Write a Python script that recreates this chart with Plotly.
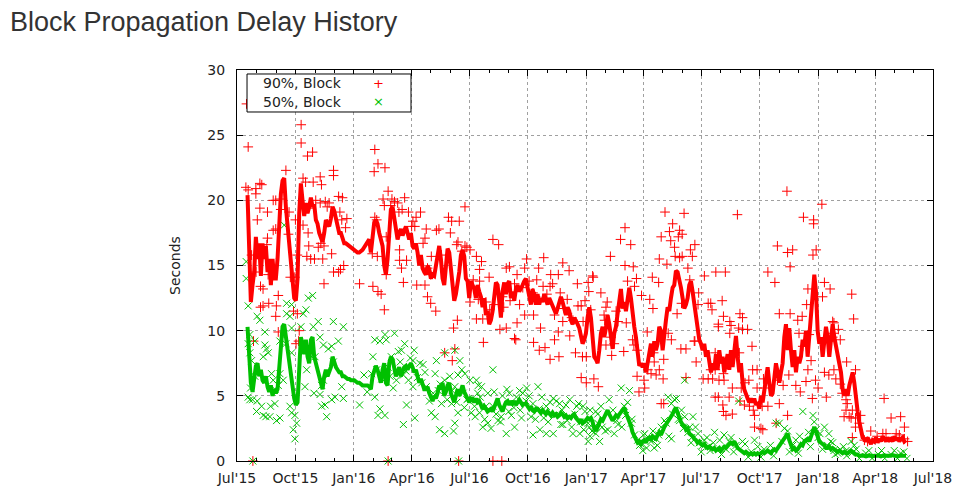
import pandas as pd
import plotly.graph_objects as go

# smoothed lines: one value every 63 hours from 2015-07-17 14:00
line_start = '2015-07-17 14:00'
red_line = [
    20.4, 16.0, 12.2, 13.5, 14.5, 17.2, 15.5, 16.7, 14.2, 16.7, 15.5, 16.5, 14.5, 15.5, 13.5, 15.5,
    14.0, 14.0, 15.5, 18.0, 20.5, 21.5, 21.7, 19.5, 18.0, 16.5, 15.0, 13.5, 12.5, 12.3, 14.0, 19.0,
    21.3, 20.0, 18.8, 19.8, 19.0, 19.5, 20.2, 19.5, 19.7, 18.5, 18.2, 17.5, 17.0, 16.8, 17.5, 18.5,
    18.2, 18.0, 18.6, 19.5, 19.2, 18.5, 18.0, 17.5, 17.5, 17.0, 16.7, 16.7, 16.6, 16.5, 16.4, 16.3,
    16.2, 16.1, 16.0, 16.0, 16.1, 16.2, 16.4, 16.6, 16.8, 17.0, 16.0, 17.5, 18.3, 18.5, 18.2, 17.5,
    17.0, 16.5, 15.0, 14.3, 15.5, 18.0, 19.3, 19.5, 18.5, 17.5, 17.0, 17.5, 17.8, 17.3, 17.8, 18.0,
    17.5, 17.0, 17.5, 16.5, 16.3, 16.7, 16.0, 15.0, 15.8, 14.8, 14.5, 14.3, 15.0, 14.7, 14.0, 14.3,
    14.2, 15.0, 16.0, 16.5, 15.5, 14.0, 13.5, 15.0, 16.3, 16.0, 14.5, 13.0, 12.3, 12.8, 13.5, 14.5,
    15.8, 16.2, 15.7, 14.0, 13.8, 12.5, 13.8,
    13.5, 13.2, 12.5, 13.5, 13.0, 12.6, 11.8, 12.5, 11.2, 11.5, 10.5, 10.8, 11.5, 12.5, 13.7, 13.5,
    12.5, 11.0, 13.0, 13.7, 12.8, 13.6, 13.8, 12.5, 13.0, 12.3, 13.2, 13.5, 13.0, 13.2, 13.5, 13.8,
    14.0, 13.3, 12.8, 12.0, 13.2, 12.5, 12.0, 12.8, 12.0, 12.5, 12.2, 12.8, 12.3, 12.0, 12.5, 12.2,
    11.8, 11.5, 11.3, 11.7, 12.2, 12.6, 12.2, 11.5, 11.2, 11.8, 11.5, 10.8, 10.5, 11.0, 10.8, 10.5,
    10.2, 9.7, 9.0, 9.3, 9.8, 11.0, 11.8,
    11.0, 9.5, 8.0, 7.8, 7.5, 8.5, 9.8, 10.3, 9.5, 10.2, 11.2, 10.5, 9.2, 8.6, 9.8, 10.3,
    11.3, 12.5, 13.2, 11.7, 12.2, 11.5, 12.5, 13.3, 12.5, 11.0, 10.3, 9.5, 8.0, 7.3, 7.5, 7.2,
    7.5, 6.8, 7.5, 8.5, 9.0, 8.0, 9.2, 8.5, 9.0, 10.3, 10.0, 8.5, 10.0, 10.8, 11.8, 11.5,
    12.5, 13.3, 13.5, 14.6, 14.5, 14.0, 13.3, 12.5, 11.7, 12.0, 12.5, 13.5, 13.8, 13.0, 12.0, 11.0,
    10.0, 9.3, 9.0, 8.5, 9.0, 8.0, 8.5,
    7.5, 6.8, 7.5, 7.0, 8.2, 7.0, 8.5, 7.5, 8.0, 6.8, 7.5, 8.2, 7.0, 8.5, 7.2, 8.8,
    9.6, 8.0, 6.8, 7.5, 6.0, 5.5, 5.0, 4.8, 4.5, 4.8, 4.5, 4.8, 4.3, 4.5, 4.0, 5.0,
    4.5, 5.5, 6.5, 7.2, 6.0, 5.0, 5.2, 6.2, 7.5, 6.8, 6.0, 6.8, 7.5, 9.5, 10.5, 8.5,
    10.2, 8.5, 7.2, 8.5, 6.8, 8.0, 7.5, 8.0, 9.3, 8.8, 10.0, 8.0, 9.5, 10.5, 12.5, 14.3,
    13.0, 10.0, 9.0, 9.5, 8.0, 9.0, 10.3,
    9.5, 8.0, 9.3, 10.5, 9.5, 8.8, 8.0, 7.5, 6.8, 5.5, 5.0, 5.5, 5.0, 5.8, 6.5, 6.8,
    6.0, 4.5, 3.8, 3.0, 2.5, 1.8, 1.7, 1.5, 1.8, 1.6, 1.3, 1.6, 1.5, 1.8, 1.4, 1.7,
    1.5, 1.9, 1.7, 1.5, 1.8, 1.6, 1.7, 1.5, 1.9, 1.6, 1.8, 1.5, 1.7, 1.8, 1.5, 1.6,
]
green_line = [
    10.3, 8.5, 6.0, 5.3, 6.5, 7.3, 7.5, 6.5, 7.0, 6.2, 6.0, 6.5, 5.7, 5.3, 5.8, 5.0,
    5.5, 5.2, 5.5, 7.0, 9.0, 10.3, 10.5, 9.5, 8.5, 7.5, 6.5, 5.8, 4.8, 4.3, 4.5, 7.0,
    9.5, 9.0, 8.2, 9.3, 8.0, 7.5, 9.3, 9.5, 8.0, 7.5, 7.0, 6.5, 6.0, 5.5, 6.5, 7.0,
    6.5, 6.8, 7.2, 8.0, 7.5, 7.2, 7.0, 6.8, 6.8, 6.5, 6.5, 6.4, 6.3, 6.3, 6.2, 6.2,
    6.2, 6.1, 6.0, 6.0, 5.9, 5.8, 5.8, 5.8, 5.8, 5.7, 5.5, 6.5, 7.0, 7.3, 7.0, 6.5,
    6.0, 7.0, 7.5, 6.0, 5.8, 7.5, 8.0, 7.8, 7.0, 6.5, 6.8, 7.2, 6.5, 6.8, 7.2, 7.3,
    7.0, 7.3, 7.5, 7.2, 6.8, 7.0, 6.5, 6.0, 6.3, 5.8, 5.5, 5.5, 5.7, 5.2, 4.8, 4.6,
    5.0, 4.8, 5.2, 5.8, 5.5, 6.0, 5.0, 5.3, 5.8, 6.0, 5.2, 4.8, 4.5, 5.0, 5.5, 5.0,
    5.5, 5.8, 5.3, 5.0, 4.8, 4.5, 4.8,
    4.8, 4.5, 4.8, 4.5, 4.6, 4.3, 4.0, 4.2, 4.0, 3.8, 3.9, 4.0, 3.8, 4.2, 4.6, 4.8,
    4.3, 4.0, 3.8, 4.2, 4.5, 4.6, 4.3, 4.6, 4.4, 4.6, 4.3, 4.5, 4.7, 4.5, 4.3, 4.4,
    4.4, 4.2, 4.0, 4.2, 3.9, 3.8, 4.0, 4.0, 3.8, 3.7, 3.9, 3.7, 3.6, 3.8, 3.6, 3.5,
    3.7, 3.5, 3.6, 3.4, 3.5, 3.7, 3.6, 3.4, 3.5, 3.3, 3.4, 3.3, 3.5, 3.6, 3.3, 3.1,
    3.0, 3.2, 2.9, 3.0, 3.1, 3.3, 3.2,
    3.3, 3.0, 2.5, 2.3, 2.6, 3.0, 3.2, 3.1, 3.4, 3.6, 3.9, 3.6, 3.3, 3.1, 3.3, 3.5,
    3.4, 3.6, 3.8, 4.0, 4.1, 3.7, 3.4, 3.0, 2.7, 2.2, 1.9, 1.6, 1.4, 1.5, 1.3, 1.5,
    1.6, 1.4, 1.7, 1.8, 1.6, 1.9, 1.8, 1.7, 2.0, 2.2, 2.0, 2.4, 2.6, 2.8, 3.0, 3.2,
    3.3, 3.6, 3.9, 4.1, 3.7, 3.3, 3.0, 2.8, 2.7, 2.4, 2.5, 2.1, 2.0, 1.9, 1.7, 1.6,
    1.4, 1.5, 1.3, 1.2, 1.3, 1.1, 1.0,
    1.1, 1.0, 0.9, 1.0, 0.8, 0.9, 1.0, 0.8, 1.0, 1.1, 1.0, 1.2, 1.3, 1.4, 1.3, 1.5,
    1.2, 1.0, 0.9, 0.8, 0.7, 0.6, 0.7, 0.6, 0.5, 0.6, 0.5, 0.6, 0.5, 0.6, 0.5, 0.6,
    0.7, 0.6, 0.7, 0.8, 0.7, 0.6, 0.8, 0.9, 0.8, 1.0, 1.1, 1.3, 1.5, 1.8, 2.0, 2.1,
    1.6, 1.2, 0.9, 1.0, 0.8, 0.9, 1.1, 1.3, 1.2, 1.5, 1.6, 1.7, 1.5, 1.9, 2.3, 2.6,
    2.3, 1.8, 1.5, 1.4, 1.3, 1.2, 1.0,
    1.0, 1.1, 0.9, 1.0, 0.9, 0.8, 0.7, 0.8, 0.7, 0.6, 0.7, 0.6, 0.6, 0.7, 0.8, 0.7,
    0.6, 0.5, 0.5, 0.4, 0.4, 0.45, 0.4, 0.35, 0.4, 0.45, 0.4, 0.35, 0.4, 0.4, 0.45, 0.4,
    0.35, 0.4, 0.45, 0.4, 0.4, 0.35, 0.4, 0.45, 0.4, 0.4, 0.35, 0.4, 0.45, 0.4, 0.4, 0.4,
]

# daily samples, day number counted from 2015-07-01
red_day = [
    15, 17.6, 14, 17.6, 29.7, 29.7, 36, 39, 36, 32, 48, 57, 61, 67, 69, 77, 82, 92, 57, 61,
    48, 47, 81, 95, 91, 65, 61, 65, 84, 37, 41, 37, 41, 50, 62, 23, 30, 49, 26, 89,
    95, 98, 93, 97, 101, 101, 111, 119, 104, 108, 120, 131, 133, 152, 152, 139, 131, 124, 112, 142,
    145, 160, 166, 162, 165, 173, 171, 112, 104, 137, 132, 113, 116, 110, 122, 135, 149, 128, 160, 163,
    168, 152, 137, 25, 238, 349, 403, 417,
    217, 222, 216, 233, 238, 230, 232, 244, 248, 253, 264, 260, 270, 255, 242, 289, 282, 277, 298, 314,
    318, 333, 338, 350, 359, 336, 346, 348, 359, 367, 217, 220, 235, 213, 221, 256, 267, 296, 293, 280,
    275, 306, 300, 305, 322, 354, 362, 259, 256, 262, 193, 214, 222, 227, 235, 283, 296, 300, 305, 313,
    232, 347, 341, 343, 327, 339, 367,
    403, 412, 377, 382, 424, 441, 456, 475, 483, 494, 513, 523, 536, 553, 509, 482, 377, 388, 414, 437,
    441, 467, 467, 476, 478, 493, 507, 533, 544, 542, 550, 524, 385, 397, 429, 453, 493, 506, 560, 554,
    466, 437, 382, 387, 424, 439, 453, 485, 500, 506, 513, 550, 537, 542, 529,
    372, 380, 392, 398, 405, 418, 420, 430, 445, 450, 460, 470, 472, 488, 497, 500, 515, 520, 527, 545,
    548, 557,
    674, 704, 611, 604, 620, 588, 668, 681, 686, 689, 714, 721, 717, 665, 677, 611, 624, 629, 654, 664,
    626, 561, 710, 713, 736, 573, 583, 597, 600, 613, 637, 650, 655, 646, 679, 684, 700, 693, 727, 726,
    742, 720, 699, 589, 581, 623, 590, 609, 630, 656, 672, 665, 647, 630, 641, 633, 671, 668, 562, 569,
    723, 734, 707, 697, 695, 701, 683, 690, 697, 701, 615, 581, 578, 579, 721, 707, 594, 625, 657, 660,
    652, 642, 742, 672,
    866, 921, 788, 892, 908, 851, 867, 907, 871, 754, 769, 836, 847, 899, 764, 897, 854, 796, 766, 758,
    804, 776, 904, 769, 899, 925, 766, 812, 780, 799, 849, 867, 815,
    908, 875, 912, 925, 922, 746, 748, 871, 890, 792, 758, 776, 778, 883, 790, 796, 885, 901, 891, 811,
    753, 791, 746, 753, 749, 759, 767, 819, 829, 830, 851, 860, 869, 880, 887, 896, 911, 915, 794, 800,
    806, 819, 928, 906, 753, 758, 765, 775, 807, 815, 813, 836, 827, 854, 766, 770, 780, 825, 828, 792,
    934, 968, 971, 960, 974, 956, 969, 1019, 1030, 1045, 1051,
    938, 940, 947, 939, 950, 938, 932, 940, 943, 950, 953, 959, 961, 969, 964, 959, 967, 974, 982, 980,
    974, 998, 1008, 1017, 1022, 1038, 1043, 1051, 1056, 988, 993,
]
red_val = [
    27.4, 24.1, 21.0, 20.8, 20.9, 20.5, 21.3, 21.2, 19.4, 18.5, 19.1, 20.0, 20.0, 20.1, 19.3, 22.3, 19.1, 18.5, 17.7, 17.8,
    17.1, 16.6, 17.4, 15.8, 14.1, 12.7, 11.1, 9.9, 14.1, 13.4, 13.2, 11.8, 11.9, 12.1, 11.9, 15.8, 14.5, 14.3, 9.2, 11.5,
    11.3, 10.0, 9.0, 9.2, 25.8, 24.4, 23.4, 23.7, 21.7, 21.4, 21.4, 21.8, 21.2, 22.3, 21.9, 19.9, 19.8, 20.0, 19.4, 19.5,
    19.8, 20.3, 20.2, 19.1, 18.5, 18.6, 17.9, 17.5, 18.1, 16.5, 16.7, 16.5, 15.5, 15.7, 15.5, 15.5, 15.9, 16.4, 14.5, 14.7,
    15.0, 14.5, 13.6, 0, 0, 0, 0, 0,
    23.9, 22.8, 22.2, 22.5, 20.7, 20.1, 19.6, 20.1, 19.9, 19.8, 20.2, 19.3, 19.1, 19.1, 19.6, 19.1, 18.7, 18.4, 17.8, 17.7,
    17.8, 18.7, 18.4, 18.4, 19.5, 17.5, 16.6, 16.8, 16.5, 16.2, 18.7, 18.5, 17.2, 15.9, 15.7, 16.2, 15.4, 17.1, 16.7, 18.0,
    18.0, 15.7, 14.8, 14.3, 15.8, 16.1, 16.4, 14.8, 15.4, 13.7, 13.6, 13.4, 13.0, 12.8, 14.3, 13.5, 13.5, 12.6, 12.1, 11.5,
    11.6, 10.8, 10.2, 8.6, 8.3, 7.7, 12.2,
    17.0, 16.6, 15.7, 14.7, 14.8, 14.3, 15.5, 14.8, 15.6, 14.3, 15.2, 14.6, 13.6, 13.7, 12.9, 13.4, 10.9, 9.1, 10.1, 9.4,
    10.6, 11.2, 9.1, 8.5, 10.2, 7.8, 8.0, 8.3, 8.0, 6.4, 6.0, 9.6, 15.3, 14.1, 14.9, 14.8, 13.4, 14.3, 14.2, 13.0,
    12.9, 13.6, 13.8, 10.9, 10.2, 9.3, 11.2, 8.7, 9.3, 9.9, 10.7, 8.0, 11.9, 11.9, 10.8,
    13.9, 12.4, 12.2, 11.6, 12.0, 12.6, 11.8, 12.3, 12.0, 13.3, 13.8, 12.6, 13.9, 12.8, 13.6, 11.2, 11.7, 12.4, 11.0, 10.7,
    12.3, 11.6,
    19.1, 19.0, 17.9, 17.0, 16.6, 15.7, 17.2, 17.6, 18.2, 16.4, 16.2, 16.6, 15.7, 15.5, 15.1, 15.0, 14.9, 14.0, 14.1, 13.7,
    13.4, 14.1, 14.8, 13.9, 14.2, 12.9, 12.2, 11.5, 10.7, 10.6, 12.7, 12.4, 11.7, 9.9, 9.8, 9.3, 12.1, 11.3, 12.9, 12.0,
    12.1, 9.2, 8.6, 9.5, 8.9, 9.3, 8.1, 8.4, 8.5, 8.3, 7.8, 7.0, 7.0, 6.5, 6.2, 5.3, 6.3, 4.4, 6.3, 5.7,
    7.6, 6.3, 6.4, 17.7, 17.2, 17.4, 16.9, 15.7, 15.6, 15.7, 13.8, 11.8, 11.2, 10.8, 9.2, 8.6, 9.0, 8.9, 7.6, 6.6,
    6.7, 5.6, 6.3, 4.4,
    20.7, 19.7, 18.9, 18.7, 18.5, 16.5, 16.0, 15.8, 14.9, 14.5, 14.5, 14.5, 13.7, 13.2, 12.3, 12.0, 11.3, 11.0, 11.1, 10.5,
    10.1, 9.8, 7.7, 7.5, 7.0, 6.8, 6.7, 7.0, 5.6, 4.3, 2.9, 3.5, 2.6,
    18.2, 16.2, 16.2, 13.7, 12.6, 12.1, 11.6, 11.3, 11.1, 11.3, 10.3, 10.7, 10.4, 10.8, 10.2, 10.1, 9.8, 9.7, 8.8, 8.8,
    8.3, 8.3, 7.0, 7.0, 6.3, 6.2, 6.2, 7.0, 6.3, 5.6, 6.2, 5.8, 6.6, 5.8, 5.3, 6.1, 6.2, 5.6, 5.6, 6.0,
    6.2, 5.6, 4.9, 4.8, 4.9, 4.9, 4.3, 4.9, 4.2, 3.5, 3.9, 4.2, 4.2, 4.4, 3.8, 3.5, 3.6, 2.5, 2.4, 4.6,
    13.2, 12.8, 10.9, 7.6, 7.0, 3.4, 1.8, 4.8, 3.3, 3.4, 2.6,
    10.7, 10.6, 10.1, 9.8, 9.3, 9.5, 6.6, 7.0, 6.3, 5.9, 5.2, 4.7, 4.4, 3.9, 3.4, 3.9, 3.3, 3.3, 3.5, 2.9,
    2.6, 2.3, 1.9, 2.1, 2.1, 2.1, 2.0, 1.7, 1.5, 1.6, 1.5,
]
green_day = [
    74.4, 17.6, 31.8, 36, 43.9, 41.3, 20.2, 17.6, 20.2, 22.9, 28.1, 21.3, 43.9, 46.5, 28.1, 49.2, 57, 54.4, 59.7, 65,
    78.1, 86, 78.1, 83.4, 86, 77, 67.6, 67.6, 72.8, 86, 104.4, 108.6, 112.3, 119.1, 100.7, 120.2, 128, 151.7, 167.5, 159.6,
    143.9, 149.1, 130.7, 136, 151.7, 108.6, 117.5, 122.8, 136, 133.3, 164.9, 167.5, 154.3, 149.1, 138.6, 133.3, 141.2, 121.2, 130.7, 109.7,
    107, 91.2, 93.9, 88.6, 91.2, 86, 83.4, 62.3, 67.6, 51.8, 45.5, 41.3, 38.7, 31.8, 24.4, 20.2, 52.8, 59.7, 30.8, 17.6,
    14.5, 14.5, 25, 238, 349,
    217, 225, 235, 233, 248, 254, 264, 259, 279, 277, 288, 293, 314, 312, 327, 343, 351, 348, 354, 359,
    367, 214, 212, 220, 238, 241, 251, 262, 270, 277, 291, 298, 309, 317, 327, 335, 343, 356, 364, 217,
    225, 222, 233, 262, 267, 280, 306, 312, 319, 327, 341, 343, 348, 193, 322, 338, 362, 369,
    200, 205, 228, 243, 246, 257, 266, 273, 284, 296, 303, 320, 331, 339, 346, 358,
    403, 377, 385, 379, 392, 403, 395, 387, 400, 424, 437, 411, 416, 429, 440, 450, 456, 474, 466, 487,
    498, 508, 524, 535, 545, 466, 477, 487, 498, 513, 529, 540, 553, 556, 553, 374, 382,
    380, 390, 405, 415, 425, 432, 445, 448, 460, 470, 480, 490, 503, 510, 518, 527, 538, 546, 556, 559,
    375, 383, 395, 408, 418, 428, 436, 446, 455, 463, 476, 483, 493, 500, 512, 520, 532, 541, 548, 555,
    605, 618, 573, 586, 610, 568, 565, 571, 584, 594, 621, 631, 642, 650, 660, 668, 673, 684, 689, 697,
    705, 713, 718, 726, 736, 742, 715, 731, 684, 657, 639, 634, 679,
    790, 752, 767, 796, 849, 854, 867, 891, 907, 909, 925, 912, 775, 815, 886,
    932, 935, 967, 972, 959, 940, 946,
    565, 575, 592, 600, 615, 622, 640, 645, 655, 662, 676, 680, 692, 695, 705, 710, 722, 728, 740, 745,
    760, 763, 778, 782, 800, 805, 820, 825, 840, 845, 862, 870, 880, 884, 900, 903, 918, 922, 938, 942,
    955, 960, 975, 980, 995, 1000, 1015, 1020, 1035, 1040, 1050, 1055,
    568, 580, 598, 606, 612, 626, 636, 652, 664, 686, 700, 703, 716, 733, 750, 770, 786, 810, 830, 858,
    875, 895, 915, 930, 950, 968, 990, 1010, 1030, 1045,
]
green_val = [
    18.1, 11.9, 11.1, 10.8, 9.9, 8.0, 9.7, 9.0, 8.3, 7.7, 6.5, 5.6, 8.9, 8.6, 9.2, 8.3, 6.2, 6.7, 5.5, 5.8,
    12.1, 12.0, 11.3, 11.1, 10.2, 9.0, 9.2, 6.7, 6.2, 8.3, 11.3, 11.6, 12.5, 12.7, 10.3, 10.3, 10.7, 10.7, 10.3, 9.2,
    8.6, 8.8, 9.5, 8.9, 7.6, 8.5, 8.0, 8.0, 6.2, 5.8, 5.7, 4.8, 4.9, 4.7, 4.3, 4.2, 3.4, 5.2, 5.1, 7.0,
    5.7, 3.5, 2.9, 2.4, 1.7, 3.7, 4.2, 3.1, 3.3, 3.4, 3.4, 3.5, 4.2, 4.6, 4.7, 4.7, 4.2, 4.4, 3.8, 4.9,
    15.3, 14.0, 0, 0, 0,
    9.3, 9.2, 9.3, 9.7, 9.8, 8.4, 9.0, 8.5, 8.5, 7.7, 7.5, 7.4, 7.7, 6.7, 8.3, 8.5, 7.7, 6.6, 7.0, 6.7,
    6.2, 8.0, 6.7, 7.0, 7.2, 6.5, 6.2, 6.6, 6.2, 5.7, 6.0, 5.7, 5.2, 5.4, 6.2, 6.5, 5.7, 5.2, 4.8, 4.9,
    4.0, 3.5, 3.5, 2.8, 4.3, 3.3, 3.7, 3.4, 2.4, 2.1, 2.3, 2.9, 3.7, 4.3, 4.4, 4.4, 4.7, 3.7,
    6.6, 5.3, 6.3, 8.0, 5.6, 7.6, 6.9, 7.9, 6.4, 6.8, 4.6, 5.9, 4.7, 5.4, 4.5, 4.1,
    7.0, 6.2, 5.7, 5.2, 4.2, 4.2, 2.9, 2.6, 2.5, 2.1, 2.6, 3.1, 3.4, 5.2, 4.9, 5.2, 5.6, 5.7, 4.4, 4.2,
    4.8, 4.4, 4.7, 4.2, 4.2, 2.0, 2.4, 2.1, 2.1, 2.8, 2.1, 2.1, 1.5, 1.9, 2.9, 4.2, 3.7,
    5.8, 3.2, 5.3, 3.0, 5.5, 3.5, 5.4, 3.3, 5.0, 3.2, 4.9, 3.0, 4.6, 2.8, 4.3, 2.6, 4.4, 2.4, 3.9, 2.3,
    3.4, 4.9, 5.2, 3.6, 5.0, 3.8, 4.1, 3.9, 4.6, 3.4, 4.0, 3.3, 4.5, 3.5, 3.9, 3.1, 3.6, 3.0, 3.8, 2.6,
    5.6, 5.4, 4.2, 4.7, 4.2, 2.9, 2.1, 1.5, 2.4, 2.1, 2.9, 1.6, 2.1, 1.7, 1.7, 2.6, 3.1, 4.4, 4.7, 3.1,
    6.2, 2.6, 3.4, 2.1, 1.6, 1.1, 1.4, 0.7, 1.7, 1.0, 0.8, 1.2, 4.9,
    4.6, 2.2, 2.0, 1.5, 2.9, 2.9, 2.3, 3.8, 3.5, 3.0, 2.6, 2.4, 1.5, 1.6, 1.9,
    2.1, 1.5, 1.5, 1.2, 0.8, 0.8, 0.6,
    3.8, 2.6, 3.9, 2.8, 4.5, 3.2, 2.0, 1.0, 2.3, 1.2, 2.9, 1.9, 4.8, 3.2, 3.4, 2.2, 2.6, 1.4, 1.8, 0.8,
    1.6, 0.5, 1.8, 0.7, 1.3, 0.3, 1.1, 0.3, 1.2, 0.4, 2.5, 0.7, 1.6, 0.6, 2.2, 1.1, 2.1, 0.9, 1.4, 0.5,
    1.1, 0.4, 0.9, 0.2, 0.8, 0.2, 0.8, 0.2, 0.8, 0.2, 0.7, 0.2,
    3.6, 2.3, 3.1, 2.6, 3.5, 2.0, 1.3, 1.5, 2.0, 3.6, 3.9, 2.5, 1.8, 1.2, 1.4, 0.9, 1.2, 0.7, 0.9, 1.5,
    1.2, 1.5, 1.8, 1.2, 0.9, 0.6, 0.6, 0.5, 0.5, 0.6,
]

tick_dates = ['2015-07-01', '2015-10-01', '2016-01-01', '2016-04-01', '2016-07-01', '2016-10-01', '2017-01-01',
              '2017-04-01', '2017-07-01', '2017-10-01', '2018-01-01', '2018-04-01', '2018-07-01']
tick_text = ["Jul'15", "Oct'15", "Jan'16", "Apr'16", "Jul'16", "Oct'16", "Jan'17",
             "Apr'17", "Jul'17", "Oct'17", "Jan'18", "Apr'18", "Jul'18"]

RED = '#ff0000'
GREEN = '#00c000'
base = pd.Timestamp('2015-07-01')
red_x = base + pd.to_timedelta(red_day, unit='D')
green_x = base + pd.to_timedelta(green_day, unit='D')
red_line_x = pd.date_range(line_start, periods=len(red_line), freq='63h')
green_line_x = pd.date_range(line_start, periods=len(green_line), freq='63h')

fig = go.Figure()
fig.add_trace(go.Scatter(x=red_x, y=red_val, mode='markers', name='90%, Block', cliponaxis=False,
                         marker=dict(symbol='cross-thin', size=7, line=dict(color=RED, width=1))))
fig.add_trace(go.Scatter(x=green_x, y=green_val, mode='markers', name='50%, Block', cliponaxis=False,
                         marker=dict(symbol='x-thin', size=7, line=dict(color=GREEN, width=1))))
fig.add_trace(go.Scatter(x=red_line_x, y=red_line, mode='lines', line=dict(color=RED, width=4)))
fig.add_trace(go.Scatter(x=green_line_x, y=green_line, mode='lines', line=dict(color=GREEN, width=4)))

axis_font = dict(family='DejaVu Sans', size=14, color='#222')
fig.update_xaxes(type='date', range=['2015-07-01', '2018-07-01'], tickvals=tick_dates, ticktext=tick_text,
                 ticks='inside', ticklen=6, tickcolor='black', showline=True, linecolor='black', linewidth=1,
                 mirror='ticks', showgrid=True, gridcolor='#a0a0a0', griddash='dot', gridwidth=1,
                 tickfont=axis_font, ticklabelstandoff=4,
                 minor=dict(ticks='inside', ticklen=3, tickcolor='black', dtick='M1', tick0='2015-07-01',
                            showgrid=False))
fig.update_yaxes(range=[0, 30], tickvals=[0, 5, 10, 15, 20, 25, 30], ticks='inside', ticklen=6,
                 tickcolor='black', showline=True, linecolor='black', linewidth=1, mirror='ticks',
                 showgrid=True, gridcolor='#a0a0a0', griddash='dot', gridwidth=1, zeroline=False,
                 tickfont=axis_font, ticklabelstandoff=8)

# the page body has an 8px margin, so the figure is sized to start there
fig.update_layout(
    width=956, height=494,
    margin=dict(l=229, r=31, t=62, b=41),
    paper_bgcolor='white', plot_bgcolor='white',
    showlegend=False,
    title=dict(text='Block Propagation Delay History', x=2 / 956, xanchor='left', xref='container',
               y=1 - 4 / 494, yanchor='top', yref='container', pad=dict(t=0),
               font=dict(family='Liberation Sans, Arial', size=27, color='#333')),
    shapes=[dict(type='rect', xref='paper', yref='paper', x0=0.0144, x1=0.25, y0=0.8926, y1=0.9898,
                 line=dict(color='black', width=1), fillcolor='white', layer='above')],
    annotations=[
        dict(text='Seconds', xref='paper', yref='paper', x=-0.0898, y=0.5, textangle=-90, showarrow=False,
             xanchor='center', yanchor='middle', font=dict(family='DejaVu Sans', size=14, color='#222')),
        dict(text='90%, Block', xref='paper', yref='paper', x=0.1537, y=0.9655, xanchor='right',
             yanchor='middle', showarrow=False, font=dict(family='DejaVu Sans', size=14, color='#222')),
        dict(text='50%, Block', xref='paper', yref='paper', x=0.1537, y=0.9194, xanchor='right',
             yanchor='middle', showarrow=False, font=dict(family='DejaVu Sans', size=14, color='#222')),
        dict(text='+', xref='paper', yref='paper', x=0.204, y=0.9655, xanchor='center', yanchor='middle',
             showarrow=False, font=dict(family='DejaVu Sans', size=13, color=RED)),
        dict(text='×', xref='paper', yref='paper', x=0.204, y=0.9194, xanchor='center', yanchor='middle',
             showarrow=False, font=dict(family='DejaVu Sans', size=13, color=GREEN)),
    ],
)

fig.write_html('out.html')
